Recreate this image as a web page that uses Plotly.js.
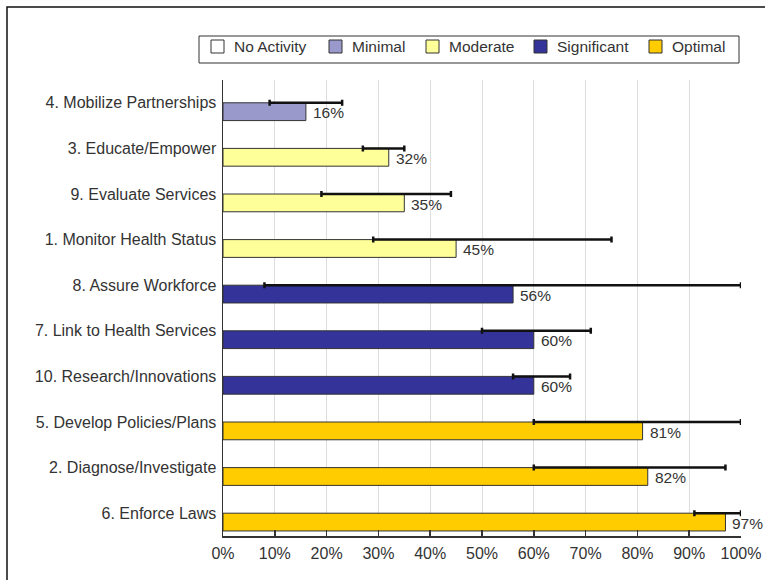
<!DOCTYPE html>
<html><head><meta charset="utf-8">
<script src="https://cdn.plot.ly/plotly-3.0.1.min.js"></script>
<style>html,body{margin:0;padding:0;background:#fff;} #chart{width:765px;height:580px;}</style>
</head><body><div id="chart"></div>
<script>
// ---- data ----
const categories = ["4. Mobilize Partnerships","3. Educate/Empower","9. Evaluate Services","1. Monitor Health Status","8. Assure Workforce","7. Link to Health Services","10. Research/Innovations","5. Develop Policies/Plans","2. Diagnose/Investigate","6. Enforce Laws"];
const scores    = [16, 32, 35, 45, 56, 60, 60, 81, 82, 97];
const rangeLow  = [9, 27, 19, 29, 8, 50, 56, 60, 60, 91];
const rangeHigh = [23, 35, 44, 75, 100, 71, 67, 100, 97, 100];
const levels = ["Minimal","Moderate","Moderate","Moderate","Significant","Significant","Significant","Optimal","Optimal","Optimal"];
const legendNames  = ["No Activity","Minimal","Moderate","Significant","Optimal"];
const legendColors = ["#FFFFFF","#9999CC","#FFFF99","#333399","#FFCC00"];
const xTickValues = [0,10,20,30,40,50,60,70,80,90,100];
const xTickLabels = ["0%","10%","20%","30%","40%","50%","60%","70%","80%","90%","100%"];

// ---- layout geometry (pixels) ----
const W = 765, H = 580;
const M = {l:223, r:24, t:80, b:44};
const PW = W - M.l - M.r, PH = H - M.t - M.b;
const FONT = "Liberation Sans";
const TXT = "#333333";
const legendSwatchX = [211, 329, 426, 534, 649];
function pxX(px){ return (px - M.l) / PW; }
function pxY(py){ return (H - M.b - py) / PH; }

const traces = [];
legendNames.forEach((name, k) => {
  const ys = [], xs = [];
  levels.forEach((lv, i) => { if (lv === name) { ys.push(categories[i]); xs.push(scores[i]); } });
  if (!xs.length) return;
  traces.push({
    type: "bar", orientation: "h", name: name, x: xs, y: ys,
    width: 0.39, offset: 0,
    marker: {color: legendColors[k], line: {color: "#333333", width: 1}},
    hoverinfo: "x+y", showlegend: false
  });
});
traces.push({
  type: "scatter", mode: "markers", x: scores, y: categories,
  marker: {color: "rgba(0,0,0,0)", size: 1},
  error_x: {
    type: "data", symmetric: false,
    array: rangeHigh.map((h, i) => h - scores[i]),
    arrayminus: rangeLow.map((l, i) => scores[i] - l),
    color: "#111111", thickness: 2.5, width: 3
  },
  cliponaxis: false, showlegend: false, hoverinfo: "skip"
});

const annotations = scores.map((v, i) => ({
  x: v, y: categories[i], xref: "x", yref: "y",
  text: v + "%", showarrow: false, xanchor: "left", yanchor: "middle",
  xshift: 5, yshift: -10, font: {family: FONT, size: 15.5, color: TXT}
}));

// ---- frame and legend ----
const shapes = [];
shapes.push({type: "rect", xref: "paper", yref: "paper",
  x0: pxX(7), x1: pxX(820), y0: pxY(7), y1: pxY(640),
  line: {color: "#111111", width: 1.5}, fillcolor: "rgba(0,0,0,0)", layer: "below"});
const swTop = 40, swSize = 13;
legendNames.forEach((name, k) => {
  const cx = legendSwatchX[k];
  shapes.push({type: "rect", xref: "paper", yref: "paper",
    x0: pxX(cx), x1: pxX(cx + swSize), y0: pxY(swTop + swSize), y1: pxY(swTop),
    fillcolor: legendColors[k], line: {color: "#333333", width: 1}});
  annotations.push({x: pxX(cx + swSize + 8), y: pxY(swTop + swSize/2), xref: "paper", yref: "paper",
    text: name, showarrow: false, xanchor: "left", yanchor: "middle",
    font: {family: FONT, size: 15.5, color: TXT}});
});
shapes.push({type: "rect", xref: "paper", yref: "paper",
  x0: pxX(199), x1: pxX(739), y0: pxY(63), y1: pxY(36),
  line: {color: "#333333", width: 1}, fillcolor: "rgba(0,0,0,0)"});

const layout = {
  width: W, height: H,
  margin: {l: M.l, r: M.r, t: M.t, b: M.b, pad: 0},
  paper_bgcolor: "#ffffff", plot_bgcolor: "#ffffff",
  barmode: "overlay", showlegend: false,
  font: {family: FONT, size: 16, color: TXT},
  xaxis: {
    range: [0, 100], tickmode: "array", tickvals: xTickValues, ticktext: xTickLabels,
    showgrid: true, gridcolor: "#dddddd", gridwidth: 1, zeroline: false,
    showline: true, linecolor: "#333333", linewidth: 1.5,
    ticks: "inside", ticklen: 6, tickcolor: "#333333", tickwidth: 1.5,
    ticklabelstandoff: 2,
    tickfont: {family: FONT, size: 16, color: TXT}, fixedrange: true
  },
  yaxis: {
    type: "category", categoryorder: "array", categoryarray: categories,
    range: [9.5, -0.5], autorange: false, showgrid: false, zeroline: false,
    showline: true, linecolor: "#333333", linewidth: 1.5, ticks: "",
    ticklabelstandoff: 2,
    tickfont: {family: FONT, size: 16, color: TXT}, fixedrange: true
  },
  shapes: shapes, annotations: annotations
};
Plotly.newPlot("chart", traces, layout, {displayModeBar: false, staticPlot: true});
</script></body></html>
